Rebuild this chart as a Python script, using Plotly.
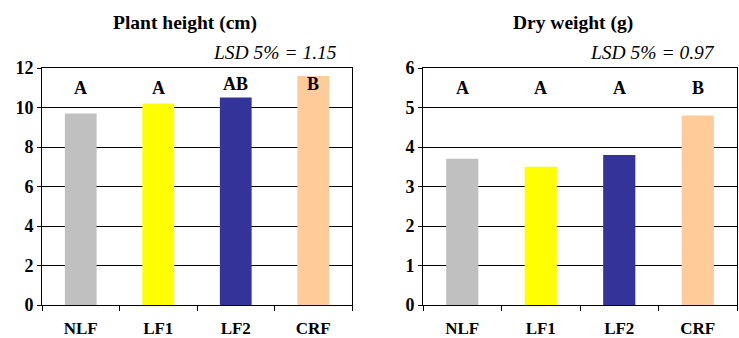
import plotly.graph_objects as go

treatments = ["NLF", "LF1", "LF2", "CRF"]
bar_colors = ["#C0C0C0", "#FFFF00", "#333399", "#FFCC99"]

height_cm = [9.7, 10.2, 10.5, 11.6]
height_groups = ["A", "A", "AB", "B"]
height_group_y = [11.0, 11.0, 11.2, 11.2]
height_lsd = "LSD 5% = 1.15"

dry_weight_g = [3.7, 3.5, 3.8, 4.8]
weight_groups = ["A", "A", "A", "B"]
weight_group_y = [5.5, 5.5, 5.5, 5.5]
weight_lsd = "LSD 5% = 0.97"

W, H = 739, 338
SERIF = "Liberation Serif, Times New Roman, serif"

fig = go.Figure()
fig.add_trace(go.Bar(x=treatments, y=height_cm, marker=dict(color=bar_colors, line=dict(width=0)),
                     xaxis="x", yaxis="y", showlegend=False))
fig.add_trace(go.Bar(x=treatments, y=dry_weight_g, marker=dict(color=bar_colors, line=dict(width=0)),
                     xaxis="x2", yaxis="y2", showlegend=False))

ydom = [1 - 305 / H, 1 - 68 / H]
xdom1 = [42 / W, 352 / W]
xdom2 = [423 / W, 737 / W]

xcommon = dict(type="category", showline=True, linecolor="black", linewidth=1, mirror=True,
               ticks="outside", ticklen=5, tickcolor="black", tickson="boundaries",
               tickfont=dict(family=SERIF, size=17, color="black"), showgrid=False,
               ticklabelstandoff=8, automargin=False)
ycommon = dict(showline=True, linecolor="black", linewidth=1, mirror=True,
               ticks="outside", ticklen=4, tickcolor="black",
               showgrid=True, gridcolor="black", gridwidth=1, zeroline=False,
               tickfont=dict(family=SERIF, size=18, color="black"), tickprefix="<b>", ticksuffix="</b>",
               automargin=False)

fig.update_layout(
    width=W, height=H, margin=dict(l=0, r=0, t=0, b=0),
    paper_bgcolor="white", plot_bgcolor="white", bargap=0.59,
    xaxis=dict(domain=xdom1, anchor="y", **xcommon),
    xaxis2=dict(domain=xdom2, anchor="y2", **xcommon),
    yaxis=dict(domain=ydom, anchor="x", range=[0, 12], dtick=2, **ycommon),
    yaxis2=dict(domain=ydom, anchor="x2", range=[0, 6], dtick=1, **ycommon),
)

fig.update_xaxes(ticktext=[f"<b>{t}</b>" for t in treatments], tickvals=treatments)

annotations = []
for t, g, gy in zip(treatments, height_groups, height_group_y):
    annotations.append(dict(x=t, y=gy, xref="x", yref="y", text=f"<b>{g}</b>", showarrow=False,
                            font=dict(family=SERIF, size=18, color="black")))
for t, g, gy in zip(treatments, weight_groups, weight_group_y):
    annotations.append(dict(x=t, y=gy, xref="x2", yref="y2", text=f"<b>{g}</b>", showarrow=False,
                            font=dict(family=SERIF, size=18, color="black")))

# panel titles and LSD notes
annotations += [
    dict(x=185 / W, y=1 - 23 / H, xref="paper", yref="paper", text="<b>Plant height (cm)</b>",
         showarrow=False, xanchor="center", yanchor="middle",
         font=dict(family=SERIF, size=19.5, color="black")),
    dict(x=573 / W, y=1 - 23 / H, xref="paper", yref="paper", text="<b>Dry weight (g)</b>",
         showarrow=False, xanchor="center", yanchor="middle",
         font=dict(family=SERIF, size=19.5, color="black")),
    dict(x=339 / W, y=1 - 52 / H, xref="paper", yref="paper", text=f"<i>{height_lsd}</i>",
         showarrow=False, xanchor="right", yanchor="middle",
         font=dict(family=SERIF, size=19.5, color="black")),
    dict(x=717 / W, y=1 - 52 / H, xref="paper", yref="paper", text=f"<i>{weight_lsd}</i>",
         showarrow=False, xanchor="right", yanchor="middle",
         font=dict(family=SERIF, size=19.5, color="black")),
]
fig.update_layout(annotations=annotations)

fig.write_html("out.html")
